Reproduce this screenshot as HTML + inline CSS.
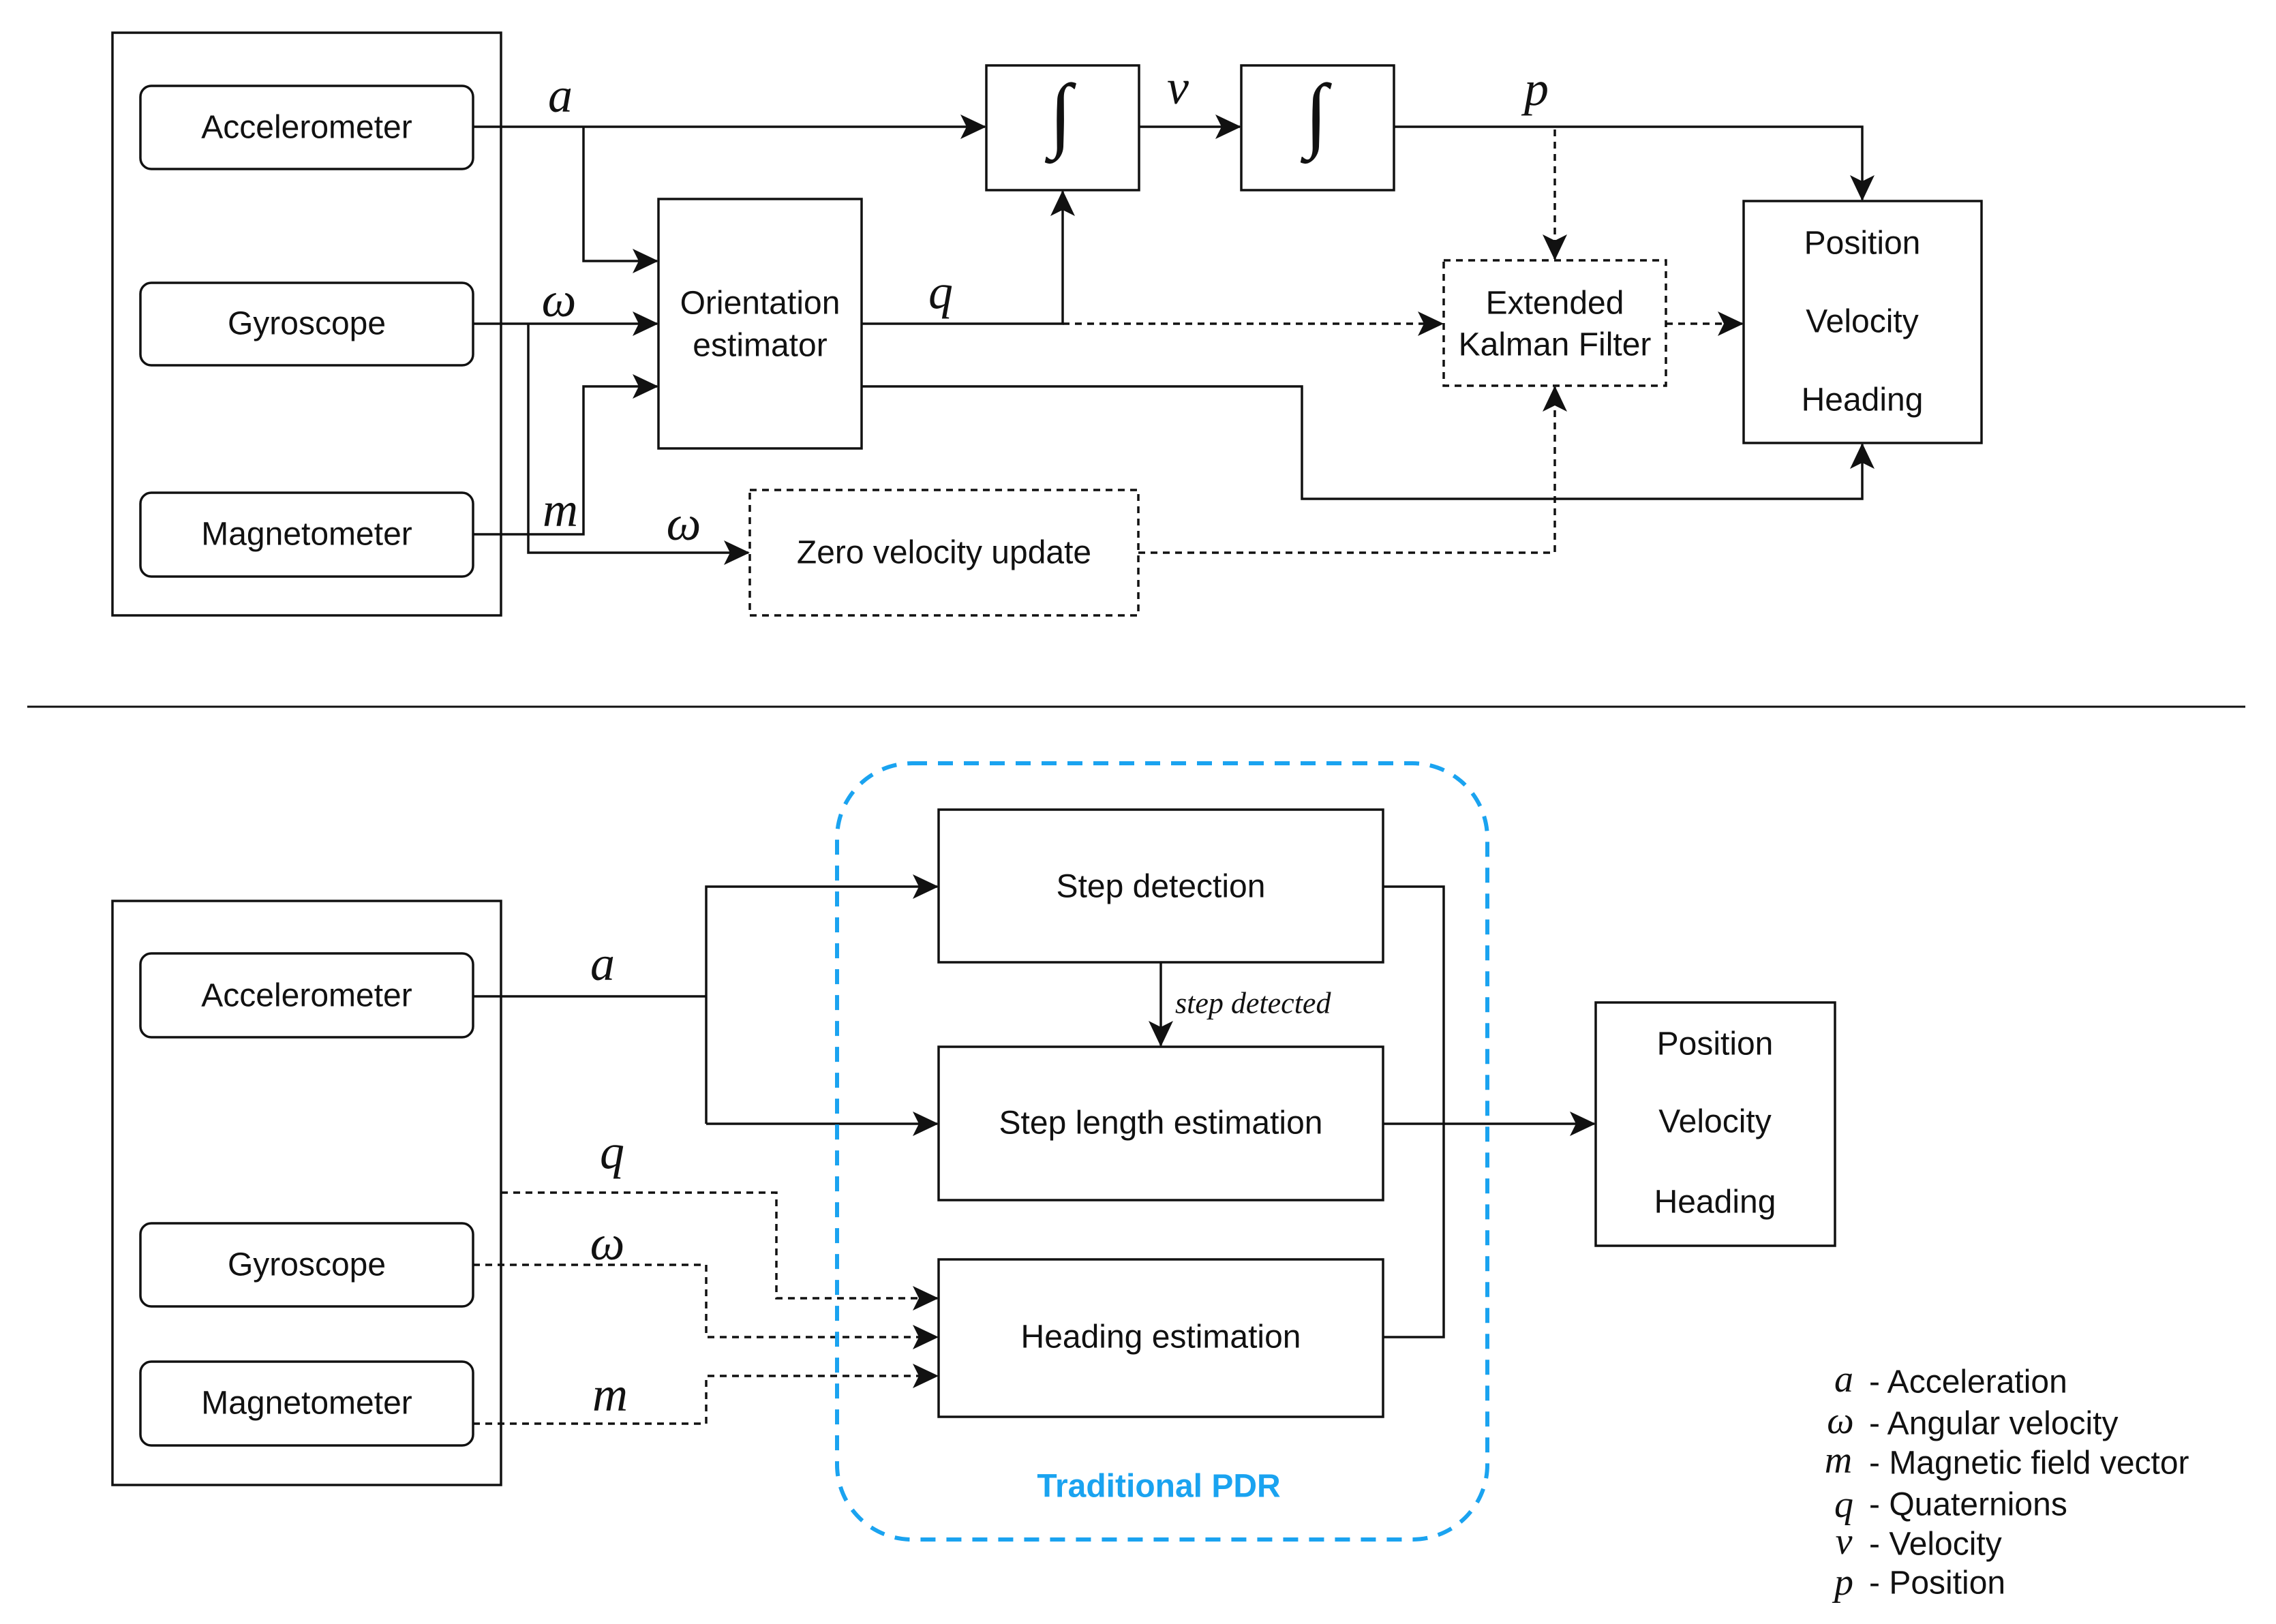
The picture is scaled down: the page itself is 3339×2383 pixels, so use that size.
<!DOCTYPE html>
<html><head><meta charset="utf-8"><style>
html,body{margin:0;padding:0;background:#fff;}
svg{display:block;}
text{font-family:"Liberation Sans",sans-serif;}
.t{font-size:48px;text-anchor:middle;dominant-baseline:central;fill:#111;}
.m{font-family:"Liberation Serif",serif;font-style:italic;font-size:72px;text-anchor:middle;dominant-baseline:central;fill:#111;}
.int{font-family:"Liberation Serif",serif;font-style:italic;font-size:122px;text-anchor:middle;dominant-baseline:central;fill:#111;}
.lg{font-size:48px;dominant-baseline:central;fill:#111;}
.lm{font-family:"Liberation Serif",serif;font-style:italic;font-size:56px;text-anchor:middle;dominant-baseline:central;fill:#111;}
</style></head><body>
<svg width="3339" height="2383" viewBox="0 0 3339 2383" xmlns="http://www.w3.org/2000/svg">
<defs>
<marker id="ar" markerUnits="userSpaceOnUse" markerWidth="40" markerHeight="36" refX="36" refY="18" orient="auto">
<path d="M0,0 L38,18 L0,36 L9,18 Z" fill="#111"/>
</marker>
</defs>
<g fill="none" stroke="#111" stroke-width="3.5">
<rect x="165" y="48" width="570" height="855"/>
<rect x="206" y="126" width="488" height="122" rx="16"/>
<rect x="206" y="415" width="488" height="121" rx="16"/>
<rect x="206" y="723" width="488" height="123" rx="16"/>
<path d="M694,186 H1445" marker-end="url(#ar)"/>
<path d="M856,186 V383 H964" marker-end="url(#ar)"/>
<path d="M694,475 H964" marker-end="url(#ar)"/>
<path d="M775,475 V811 H1098" marker-end="url(#ar)"/>
<path d="M694,784 H856 V567 H964" marker-end="url(#ar)"/>
<rect x="966" y="292" width="298" height="366"/>
<path d="M1264,475 H1559 V281" marker-end="url(#ar)"/>
<path d="M1559,475 H2116" stroke-dasharray="10 8" marker-end="url(#ar)"/>
<rect x="1447" y="96" width="224" height="183"/>
<rect x="1821" y="96" width="224" height="183"/>
<path d="M1671,186 H1819" marker-end="url(#ar)"/>
<path d="M2045,186 H2732 V293" marker-end="url(#ar)"/>
<path d="M2281,190 V380" stroke-dasharray="10 8" marker-end="url(#ar)"/>
<rect x="2118" y="382" width="326" height="184" stroke-dasharray="10 8"/>
<path d="M2444,475 H2556" stroke-dasharray="10 8" marker-end="url(#ar)"/>
<rect x="2558" y="295" width="349" height="355"/>
<path d="M1264,567 H1910 V732 H2732 V652" marker-end="url(#ar)"/>
<rect x="1100" y="719" width="570" height="184" stroke-dasharray="10 8"/>
<path d="M1670,811 H2281 V568" stroke-dasharray="10 8" marker-end="url(#ar)"/>
<path d="M40,1037 H3294" stroke-width="3"/>
<rect x="165" y="1322" width="570" height="857"/>
<rect x="206" y="1399" width="488" height="123" rx="16"/>
<rect x="206" y="1795" width="488" height="122" rx="16"/>
<rect x="206" y="1998" width="488" height="123" rx="16"/>
<path d="M694,1462 H1036"/>
<path d="M1036,1649 V1301 H1375" marker-end="url(#ar)"/>
<path d="M1036,1649 H1375" marker-end="url(#ar)"/>
<rect x="1377" y="1188" width="652" height="224"/>
<rect x="1377" y="1536" width="652" height="225"/>
<rect x="1377" y="1848" width="652" height="231"/>
<path d="M1703,1412 V1534" marker-end="url(#ar)"/>
<path d="M2029,1301 H2118 V1962 H2029"/>
<path d="M2029,1649 H2339" marker-end="url(#ar)"/>
<rect x="2341" y="1471" width="351" height="357"/>
<path d="M735,1750 H1139 V1905 H1375" stroke-dasharray="10 8" marker-end="url(#ar)"/>
<path d="M694,1856 H1036 V1962 H1375" stroke-dasharray="10 8" marker-end="url(#ar)"/>
<path d="M694,2089 H1036 V2019 H1375" stroke-dasharray="10 8" marker-end="url(#ar)"/>
<rect x="1228" y="1120" width="954" height="1139" rx="110" stroke="#1aa3f0" stroke-width="6" stroke-dasharray="22 16"/>
</g>
<text class="t" x="450" y="187">Accelerometer</text>
<text class="t" x="450" y="475">Gyroscope</text>
<text class="t" x="450" y="784">Magnetometer</text>
<text class="t" x="1115" y="445">Orientation</text>
<text class="t" x="1115" y="507">estimator</text>
<text class="t" x="2281" y="445">Extended</text>
<text class="t" x="2281" y="506">Kalman Filter</text>
<text class="t" x="2732" y="357">Position</text>
<text class="t" x="2732" y="472">Velocity</text>
<text class="t" x="2732" y="587">Heading</text>
<text class="t" x="1385" y="811">Zero velocity update</text>
<text class="int" x="1556" y="167">∫</text>
<text class="int" x="1931" y="167">∫</text>
<text class="m" x="822" y="140">a</text>
<text class="m" x="820" y="440">ω</text>
<text class="m" x="822" y="748">m</text>
<text class="m" x="1003" y="768">ω</text>
<text class="m" x="1380" y="428">q</text>
<text class="m" x="1728" y="128">v</text>
<text class="m" x="2254" y="130">p</text>
<text class="t" x="450" y="1461">Accelerometer</text>
<text class="t" x="450" y="1856">Gyroscope</text>
<text class="t" x="450" y="2059">Magnetometer</text>
<text class="t" x="1703" y="1301">Step detection</text>
<text class="t" x="1703" y="1648">Step length estimation</text>
<text class="t" x="1703" y="1962">Heading estimation</text>
<text class="t" x="2516" y="1532">Position</text>
<text class="t" x="2516" y="1646">Velocity</text>
<text class="t" x="2516" y="1764">Heading</text>
<text x="1724" y="1472" style="font-family:'Liberation Serif',serif;font-style:italic;font-size:44px;dominant-baseline:central;fill:#111">step detected</text>
<text x="1700" y="2181" style="font-size:48px;font-weight:bold;fill:#1aa3f0;text-anchor:middle;dominant-baseline:central">Traditional PDR</text>
<text class="m" x="884" y="1414">a</text>
<text class="m" x="898" y="1690">q</text>
<text class="m" x="891" y="1824">ω</text>
<text class="m" x="895" y="2046">m</text>
<text class="lm" x="2705" y="2024">a</text>
<text class="lg" x="2742" y="2028">- Acceleration</text>
<text class="lm" x="2700" y="2085">ω</text>
<text class="lg" x="2742" y="2089">- Angular velocity</text>
<text class="lm" x="2697" y="2143">m</text>
<text class="lg" x="2742" y="2147">- Magnetic field vector</text>
<text class="lm" x="2705" y="2208">q</text>
<text class="lg" x="2742" y="2208">- Quaternions</text>
<text class="lm" x="2705" y="2262">v</text>
<text class="lg" x="2742" y="2266">- Velocity</text>
<text class="lm" x="2705" y="2322">p</text>
<text class="lg" x="2742" y="2323">- Position</text>
</svg>
</body></html>
